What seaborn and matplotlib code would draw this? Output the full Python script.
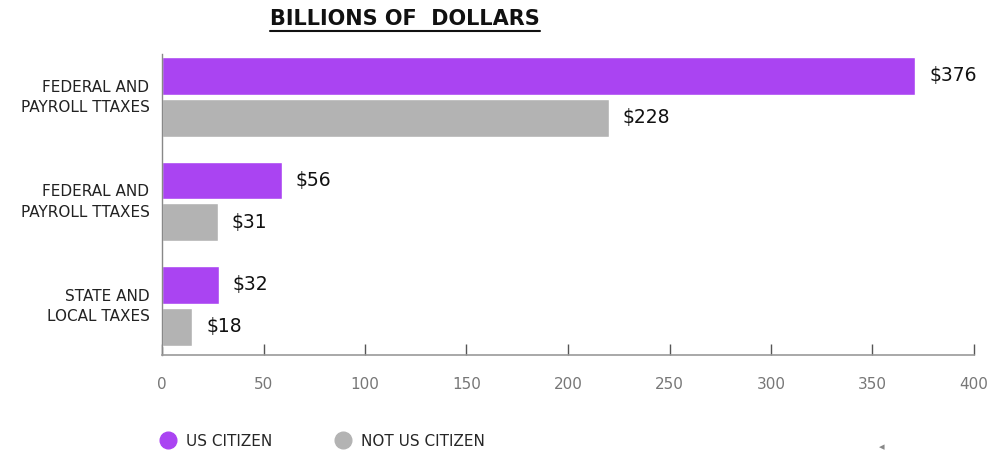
import matplotlib
matplotlib.use("Agg")
import matplotlib.pyplot as plt
import matplotlib.transforms as mtransforms
import seaborn as sns
import pandas as pd
from matplotlib.lines import Line2D

categories = ["FEDERAL AND\nPAYROLL TTAXES", "FEDERAL AND\nPAYROLL TTAXES", "STATE AND\nLOCAL TAXES"]
cat_keys = ["g1", "g2", "g3"]
series = ["US CITIZEN", "NOT US CITIZEN"]
us_values = [371, 59, 28]
not_us_values = [220, 27.5, 15]
us_labels = ["$376", "$56", "$32"]
not_us_labels = ["$228", "$31", "$18"]
x_ticks = [0, 50, 100, 150, 200, 250, 300, 350, 400]
title = "BILLIONS OF  DOLLARS"

PURPLE = "#AA44F2"
GREY = "#B3B3B3"

df = pd.DataFrame({
    "cat": cat_keys * 2,
    "series": [series[0]] * 3 + [series[1]] * 3,
    "value": us_values + not_us_values,
})

sns.set_theme(style="white")
plt.rcParams["font.family"] = ["DejaVu Sans"]

fig = plt.figure(figsize=(9.9, 4.51), dpi=100)
W, H = 990, 451
ax = fig.add_axes([162 / W, 1 - 355 / H, (974 - 162) / W, (355 - 54) / H])

sns.barplot(data=df, y="cat", x="value", hue="series", order=cat_keys,
            hue_order=series, palette=[PURPLE, GREY], orient="h",
            width=0.8, gap=0.1, ax=ax, legend=False, saturation=1)

ax.set_xlim(0, 400)
ax.set_ylim(2.47, -0.41)
ax.set_xlabel("")
ax.set_ylabel("")

# value labels
labels_by_series = [us_labels, not_us_labels]
for ci, cont in enumerate(ax.containers):
    for bi, bar in enumerate(cont):
        ax.annotate(labels_by_series[ci][bi],
                    (bar.get_width(), bar.get_y() + bar.get_height() / 2),
                    xytext=(10, 0), textcoords="offset points",
                    ha="left", va="center", fontsize=13.5, color="#111111")

# axes styling
for s in ["top", "right"]:
    ax.spines[s].set_visible(False)
ax.spines["left"].set_color("#888888")
ax.spines["bottom"].set_color("#999999")
ax.spines["left"].set_linewidth(1)
ax.spines["bottom"].set_linewidth(1.2)

ax.set_xticks(x_ticks)
ax.set_xticklabels([str(t) for t in x_ticks], fontsize=11, color="#777777",
                   family=["Liberation Sans Narrow", "DejaVu Sans"])
ax.tick_params(axis="x", direction="in", length=8, width=1, color="#555555",
               pad=16, bottom=True)
ax.set_yticks(range(len(cat_keys)))
ax.set_yticklabels(categories, fontsize=11, color="#222222", linespacing=1.45)
ax.tick_params(axis="y", length=0, pad=9)
offset = mtransforms.ScaledTranslation(0, 2.5 / 72, fig.dpi_scale_trans)
for lab in ax.get_yticklabels():
    lab.set_transform(lab.get_transform() + offset)

# title with underline
t = fig.text(405 / W, 1 - 19 / H, title, ha="center", va="center",
             fontsize=15, fontweight="bold", color="#111111")
fig.canvas.draw()
bb = t.get_window_extent().transformed(fig.transFigure.inverted())
fig.add_artist(Line2D([bb.x0, bb.x1], [bb.y0 - 0.004, bb.y0 - 0.004],
                      transform=fig.transFigure, color="#111111", lw=1.5))

# legend
handles = [Line2D([], [], marker="o", linestyle="", markersize=12,
                  markerfacecolor=c, markeredgecolor=c) for c in [PURPLE, GREY]]
fig.legend(handles, series, loc="center left",
           bbox_to_anchor=(147 / W, 1 - 441 / H), ncol=2, frameon=False,
           fontsize=11, handletextpad=0.65, columnspacing=4.15,
           handlelength=1.0)

# small marker at bottom right
fig.text(882 / W, 1 - 447 / H, "◂", ha="center", va="center",
         fontsize=8, color="#888888")

fig.savefig("out.png", dpi=100)
